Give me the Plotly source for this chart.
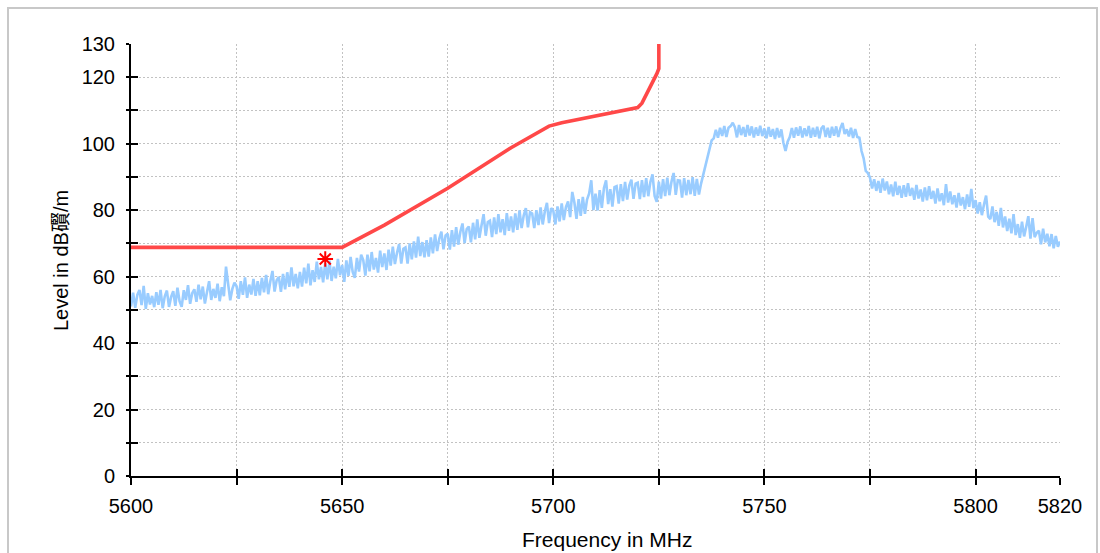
import plotly.graph_objects as go

# ---------------- data ----------------
meas_start_mhz = 5600.0
meas_step_mhz = 0.5
meas_level = [
    51.0, 55.2, 50.6, 54.5, 56.0, 51.4, 57.2, 50.3, 55.0, 51.6,   # 5600
    54.2, 50.8, 55.3, 51.5, 56.0, 50.5, 54.1, 55.8, 50.9, 53.9,   # 5605
    55.6, 51.2, 56.7, 52.6, 50.9, 55.9, 53.0, 57.4, 51.8, 55.0,   # 5610
    56.2, 52.4, 57.6, 53.2, 57.0, 51.9, 55.4, 58.6, 53.0, 56.3,   # 5615
    53.6, 57.9, 52.6, 56.8, 54.1, 63.0, 57.8, 52.9, 56.3, 58.2,   # 5620
    57.1, 53.3, 58.6, 54.5, 59.8, 53.6, 57.6, 54.6, 59.3, 54.2,   # 5625
    58.6, 54.4, 59.6, 55.3, 60.5, 54.7, 58.6, 61.7, 55.5, 58.9,   # 5630
    59.9, 55.4, 60.8, 56.2, 61.3, 56.9, 62.8, 57.1, 60.8, 56.5,   # 5635
    61.4, 57.0, 62.7, 58.0, 63.9, 57.4, 61.9, 58.4, 64.5, 59.2,   # 5640
    62.9, 58.3, 64.1, 59.2, 64.8, 58.7, 63.0, 59.5, 65.3, 60.4,   # 5645
    63.5, 58.4, 64.9, 60.2, 65.9, 61.4, 59.6, 65.6, 61.5, 66.6,   # 5650
    65.0, 60.3, 66.6, 61.6, 67.4, 62.1, 65.6, 61.2, 67.8, 62.9,   # 5655
    67.0, 62.0, 68.1, 63.3, 69.0, 63.8, 67.2, 69.8, 63.9, 68.4,   # 5660
    68.8, 63.9, 70.0, 65.2, 70.6, 65.7, 72.0, 66.2, 70.4, 65.8,   # 5665
    71.0, 66.0, 71.8, 67.0, 72.7, 67.7, 71.4, 73.5, 68.2, 72.4,   # 5670
    72.9, 68.1, 74.0, 69.0, 74.9, 69.6, 73.5, 76.0, 70.1, 74.3,   # 5675
    75.1, 70.3, 76.2, 71.2, 77.2, 71.7, 75.4, 78.8, 72.3, 76.4,   # 5680
    76.8, 71.9, 77.8, 72.8, 78.8, 73.3, 77.3, 72.5, 79.1, 73.8,   # 5685
    78.1, 73.3, 79.0, 74.1, 79.9, 74.6, 78.4, 80.6, 74.8, 79.4,   # 5690
    79.0, 74.6, 80.0, 75.5, 80.8, 75.7, 79.6, 82.2, 76.1, 80.6,   # 5695
    79.9, 75.7, 81.1, 76.6, 82.0, 77.0, 80.9, 82.6, 77.9, 85.5,   # 5700
    82.3, 77.4, 83.3, 78.3, 84.0, 78.9, 83.2, 85.0, 89.0, 80.0,   # 5705
    85.0, 79.9, 86.0, 80.7, 86.7, 89.0, 81.8, 86.3, 81.1, 86.9,   # 5710
    87.2, 82.0, 87.8, 82.7, 88.5, 83.2, 87.4, 89.2, 83.4, 88.0,   # 5715
    88.3, 83.3, 89.0, 83.9, 89.6, 84.2, 88.5, 90.8, 84.3, 82.5,   # 5720
    88.6, 83.5, 89.3, 84.2, 89.8, 84.5, 88.6, 91.2, 84.6, 89.0,   # 5725
    88.9, 83.8, 89.6, 84.5, 89.1, 84.8, 89.9, 84.3, 89.4, 84.7,   # 5730
    88.0, 90.5, 92.8, 96.0, 98.0, 101.0, 101.6, 104.2, 101.8, 104.8,   # 5735
    102.3, 105.3, 102.0, 104.8, 105.3, 106.3, 105.0, 101.9, 105.6, 102.6,  # 5740
    105.0, 102.1, 105.6, 102.5, 105.2, 101.9, 104.9, 102.4, 105.4, 102.3,  # 5745
    104.6, 101.6, 105.0, 102.1, 104.4, 101.4, 104.7, 101.9, 104.3, 100.3,  # 5750
    97.8, 100.6, 102.0, 104.7, 101.8, 104.9, 102.4, 105.2, 101.9, 104.6,   # 5755
    102.3, 105.3, 101.8, 104.8, 102.1, 105.1, 101.6, 104.6, 105.4, 102.0,  # 5760
    104.8, 101.8, 105.1, 102.4, 105.2, 102.0, 104.7, 106.2, 102.9, 104.3,  # 5765
    102.2, 104.8, 101.7, 104.4, 102.0, 101.8, 97.8, 95.6, 91.8, 91.2,      # 5770
    89.8, 86.5, 89.3, 85.8, 88.8, 85.2, 89.5, 85.9, 88.6, 84.8,   # 5775
    87.7, 84.2, 88.6, 84.6, 87.3, 83.7, 87.5, 84.0, 88.1, 84.3,   # 5780
    86.7, 83.1, 87.6, 83.5, 86.2, 82.6, 86.8, 83.0, 87.2, 83.4,   # 5785
    85.8, 82.0, 86.5, 82.7, 85.1, 81.5, 87.8, 82.3, 85.6, 81.8,   # 5790
    84.5, 80.8, 85.2, 81.4, 83.9, 80.3, 84.7, 81.0, 86.4, 80.6,   # 5795
    83.0, 79.0, 82.4, 78.5, 81.7, 84.4, 78.0, 77.3, 81.1, 76.4,   # 5800
    79.5, 75.3, 80.7, 74.8, 78.1, 73.7, 77.4, 73.0, 78.8, 72.5,   # 5805
    75.8, 71.7, 76.5, 72.1, 75.0, 78.2, 71.4, 77.6, 71.9, 73.2,   # 5810
    73.8, 69.7, 74.4, 70.3, 72.9, 69.1, 72.8, 68.5, 72.2, 69.0,   # 5815
    70.6,                                                          # 5820
]
meas_freq = [meas_start_mhz + meas_step_mhz * i for i in range(len(meas_level))]

limit_freq = [5600, 5650, 5660, 5675, 5690, 5699, 5702, 5710, 5720, 5721, 5723, 5724.5, 5725, 5725]
limit_level = [68.8, 68.8, 75.5, 86.6, 98.8, 105.3, 106.3, 108.3, 110.9, 112.2, 117.0, 121.0, 122.6, 140]

peak_freq = [5646]
peak_level = [65.3]

x_tickvals = [5600, 5625, 5650, 5675, 5700, 5725, 5750, 5775, 5800, 5820]
x_ticktext = ["5600", "", "5650", "", "5700", "", "5750", "", "5800", "5820"]
y_tickvals = [0, 10, 20, 30, 40, 50, 60, 70, 80, 90, 100, 110, 120, 130]
y_ticktext = ["0", "", "20", "", "40", "", "60", "", "80", "", "100", "", "120", "130"]

x_title = "Frequency in MHz"
y_title = "Level in dB礥/m"

# ---------------- figure ----------------
W, H = 1100, 553
ML, MR, MT, MB = 131, 40, 44, 77
PW, PH = W - ML - MR, H - MT - MB

def px_x(p):
    return (p - ML) / PW

def px_y(p):
    return (H - MB - p) / PH

fig = go.Figure()
fig.add_trace(go.Scatter(x=meas_freq, y=meas_level, mode="lines",
                         line=dict(color="#99ccff", width=2.6), hoverinfo="skip"))
fig.add_trace(go.Scatter(x=limit_freq, y=limit_level, mode="lines",
                         line=dict(color="#ff4848", width=3.6), hoverinfo="skip"))
fig.add_trace(go.Scatter(x=peak_freq, y=peak_level, mode="markers",
                         marker=dict(symbol="asterisk-open", size=13, color="#ff0000",
                                     line=dict(color="#ff0000", width=2)),
                         hoverinfo="skip"))
# carrier trace for the overlay axes (inside half of the crossing ticks)
fig.add_trace(go.Scatter(x=[None], y=[None], xaxis="x2", yaxis="y2",
                         mode="lines", showlegend=False, hoverinfo="skip"))

tick_font = dict(family="Liberation Sans, Arial, sans-serif", size=20, color="#000000")
grid_common = dict(showgrid=True, gridcolor="#c2c2c2", gridwidth=1, griddash="2px,2px",
                   zeroline=False, showline=True, linecolor="#000000", linewidth=2,
                   tickcolor="#000000", tickwidth=2, tickfont=tick_font,
                   tickmode="array")

fig.update_layout(
    width=W, height=H,
    margin=dict(l=ML, r=MR, t=MT, b=MB),
    paper_bgcolor="#ffffff", plot_bgcolor="#ffffff",
    showlegend=False,
    xaxis=dict(range=[5600, 5820], tickvals=x_tickvals, ticktext=x_ticktext,
               ticks="outside", ticklen=7, ticklabelstandoff=4, **grid_common),
    yaxis=dict(range=[0, 130], tickvals=y_tickvals, ticktext=y_ticktext,
               ticks="outside", ticklen=3, ticklabelstandoff=7, **grid_common),
    xaxis2=dict(range=[5600, 5820], overlaying="x", anchor="y", side="bottom",
                tickmode="array", tickvals=x_tickvals, showticklabels=False,
                ticks="inside", ticklen=7, tickwidth=2, tickcolor="#000000",
                showgrid=False, zeroline=False, showline=False),
    yaxis2=dict(range=[0, 130], overlaying="y", anchor="x", side="left",
                tickmode="array", tickvals=y_tickvals, showticklabels=False,
                ticks="inside", ticklen=7, tickwidth=2, tickcolor="#000000",
                showgrid=False, zeroline=False, showline=False),
    shapes=[dict(type="rect", xref="paper", yref="paper",
                 x0=px_x(8), x1=px_x(1097), y0=px_y(620), y1=px_y(8),
                 line=dict(color="#c8c8c8", width=2), fillcolor="rgba(0,0,0,0)",
                 layer="below")],
    annotations=[
        dict(text=x_title, xref="paper", yref="paper", x=px_x(607), y=px_y(539),
             xanchor="center", yanchor="middle", showarrow=False,
             font=dict(family="Liberation Sans, Arial, sans-serif", size=21, color="#000000")),
        dict(text=y_title, xref="paper", yref="paper", x=px_x(61), y=px_y(261),
             xanchor="center", yanchor="middle", showarrow=False, textangle=-90,
             font=dict(family="Liberation Sans, Noto Sans CJK SC, sans-serif", size=20,
                       color="#000000")),
    ],
)

fig.write_html("out.html", config={"displayModeBar": False},
               post_script="document.body.style.margin='0';document.body.style.overflow='hidden';")
